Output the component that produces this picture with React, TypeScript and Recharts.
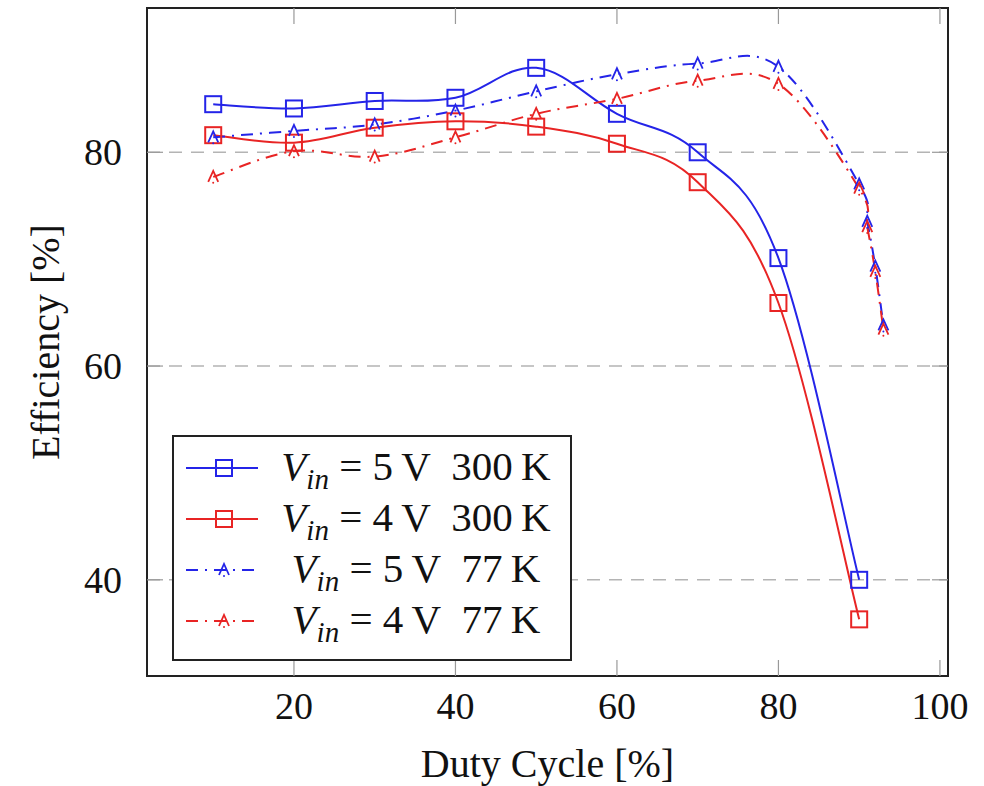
import React from "react";
import {
  LineChart,
  Line,
  XAxis,
  YAxis,
  CartesianGrid,
  Legend,
  ReferenceArea,
} from "recharts";

// duty cycle [%] and efficiency [%]
const duty300K = [10, 20, 30, 40, 50, 60, 70, 80, 90];
const eff5V300K = [84.5, 84.1, 84.8, 85.1, 87.9, 83.6, 80.0, 70.1, 40.0];
const eff4V300K = [81.6, 80.9, 82.3, 82.9, 82.4, 80.8, 77.2, 65.9, 36.3];

const duty77K = [10, 20, 30, 40, 50, 60, 70, 80, 90, 91, 92, 93];
const eff5V77K = [81.4, 82.0, 82.6, 83.9, 85.7, 87.3, 88.3, 88.0, 77.0, 73.5, 69.3, 63.8];
const eff4V77K = [77.7, 80.1, 79.6, 81.4, 83.6, 85.0, 86.7, 86.4, 76.6, 73.0, 68.8, 63.4];

const xTicks = [20, 40, 60, 80, 100];
const yTicks = [40, 60, 80];

const X_DOMAIN: [number, number] = [1.8, 101];
const Y_DOMAIN: [number, number] = [31, 93.5];

const W = 984;
const H = 786;
const TOP = 8;
const LEFT = 147;
const RIGHT = 948;
const BOTTOM = 676;
const TICK_LEN = 16;

const BLUE = "#2424e8";
const RED = "#e82424";
const FONT = "'Liberation Serif', 'DejaVu Serif', serif";
const DASHDOT = "12 7 2 7";

const toPoints = (xs: number[], ys: number[]) => xs.map((x, i) => ({ x, y: ys[i] }));

const series = [
  { name: "5V300K", data: toPoints(duty300K, eff5V300K), color: BLUE, mark: "square", volts: "5", temp: "300" },
  { name: "4V300K", data: toPoints(duty300K, eff4V300K), color: RED, mark: "square", volts: "4", temp: "300" },
  { name: "5V77K", data: toPoints(duty77K, eff5V77K), color: BLUE, mark: "triangle", volts: "5", temp: "77" },
  { name: "4V77K", data: toPoints(duty77K, eff4V77K), color: RED, mark: "triangle", volts: "4", temp: "77" },
];

// tikz-like "smooth" (cardinal spline) curve
const smoothCurve = (context: any) => {
  let pts: [number, number][] = [];
  const k = 0.18;
  return {
    areaStart() {},
    areaEnd() {},
    lineStart() {
      pts = [];
    },
    point(x: number, y: number) {
      pts.push([+x, +y]);
    },
    lineEnd() {
      if (!pts.length) return;
      context.moveTo(pts[0][0], pts[0][1]);
      for (let i = 0; i < pts.length - 1; i++) {
        const p0 = pts[i - 1] || pts[i];
        const p1 = pts[i];
        const p2 = pts[i + 1];
        const p3 = pts[i + 2] || p2;
        context.bezierCurveTo(
          p1[0] + k * (p2[0] - p0[0]),
          p1[1] + k * (p2[1] - p0[1]),
          p2[0] - k * (p3[0] - p1[0]),
          p2[1] - k * (p3[1] - p1[1]),
          p2[0],
          p2[1]
        );
      }
    },
  };
};

const Square = ({ cx, cy, color }: any) => (
  <rect x={cx - 8} y={cy - 8} width={16} height={16} fill="none" stroke={color} strokeWidth={2} />
);

const Caret = ({ cx, cy, color }: any) => (
  <g>
    <path d={`M${cx - 5},${cy + 5} L${cx},${cy - 6} L${cx + 5},${cy + 5}`} fill="none" stroke={color} strokeWidth={1.8} />
    <circle cx={cx} cy={cy + 6} r={1} fill={color} />
  </g>
);

const makeDot = (mark: string, color: string) => (props: any) => {
  const { cx, cy, index } = props;
  if (cx == null || cy == null) return <g key={index} />;
  return mark === "square" ? (
    <Square key={index} cx={cx} cy={cy} color={color} />
  ) : (
    <Caret key={index} cx={cx} cy={cy} color={color} />
  );
};

const XTick = ({ x, y, payload }: any) => (
  <g>
    <line x1={x} x2={x} y1={BOTTOM} y2={BOTTOM - TICK_LEN} stroke="#999" strokeWidth={1.2} />
    <line x1={x} x2={x} y1={TOP} y2={TOP + TICK_LEN} stroke="#999" strokeWidth={1.2} />
    <text x={x} y={y} textAnchor="middle" dominantBaseline="central" fontFamily={FONT} fontSize={38} fill="#111">
      {payload.value}
    </text>
  </g>
);

const YTick = ({ x, y, payload }: any) => (
  <g>
    <line x1={LEFT} x2={LEFT + TICK_LEN} y1={y} y2={y} stroke="#999" strokeWidth={1.2} />
    <line x1={RIGHT} x2={RIGHT - TICK_LEN} y1={y} y2={y} stroke="#999" strokeWidth={1.2} />
    <text x={x} y={y} textAnchor="end" dominantBaseline="central" fontFamily={FONT} fontSize={38} fill="#111">
      {payload.value}
    </text>
  </g>
);

const XTitle = () => (
  <text x={(LEFT + RIGHT) / 2} y={777} textAnchor="middle" fontFamily={FONT} fontSize={40} fill="#111">
    Duty Cycle [%]
  </text>
);

const YTitle = () => {
  const cy = (TOP + BOTTOM) / 2;
  return (
    <text
      x={45}
      y={cy}
      transform={`rotate(-90 45 ${cy})`}
      textAnchor="middle"
      dominantBaseline="central"
      fontFamily={FONT}
      fontSize={40}
      fill="#111"
    >
      Efficiency [%]
    </text>
  );
};

const LegendBox = () => (
  <div
    style={{
      width: 396,
      height: 216,
      border: "2px solid #222",
      background: "#fff",
      paddingTop: 6,
      boxSizing: "content-box",
    }}
  >
    {series.map((s) => (
      <div key={s.name} style={{ display: "flex", alignItems: "center", height: 51 }}>
        <svg width={88} height={51}>
          <line
            x1={12}
            x2={84}
            y1={25}
            y2={25}
            stroke={s.color}
            strokeWidth={2}
            strokeDasharray={s.mark === "square" ? undefined : DASHDOT}
          />
          {s.mark === "square" ? <Square cx={50} cy={25} color={s.color} /> : <Caret cx={50} cy={25} color={s.color} />}
        </svg>
        <div
          style={{
            flex: 1,
            textAlign: "center",
            fontFamily: FONT,
            fontSize: 41,
            color: "#111",
            lineHeight: "51px",
            whiteSpace: "nowrap",
          }}
        >
          <span style={{ fontStyle: "italic" }}>V</span>
          <span style={{ fontStyle: "italic", fontSize: 29, position: "relative", top: 9 }}>in</span>
          {` = ${s.volts}\u2009V\u2002${s.temp}\u2009K`}
        </div>
      </div>
    ))}
  </div>
);

export default function App() {
  return (
    <div style={{ position: "absolute", left: 0, top: 0, width: W, height: H, background: "#fff" }}>
      <LineChart width={W} height={H} margin={{ top: TOP, right: W - RIGHT, bottom: 0, left: 0 }}>
        <CartesianGrid vertical={false} stroke="#b4b4b4" strokeWidth={1.5} strokeDasharray="13 9" />
        <XAxis
          type="number"
          dataKey="x"
          domain={X_DOMAIN}
          ticks={xTicks}
          allowDataOverflow
          height={H - BOTTOM}
          axisLine={false}
          tickLine={false}
          tickSize={0}
          tickMargin={30}
          tick={<XTick />}
          label={<XTitle />}
        />
        <YAxis
          type="number"
          domain={Y_DOMAIN}
          ticks={yTicks}
          allowDataOverflow
          width={LEFT}
          axisLine={false}
          tickLine={false}
          tickSize={0}
          tickMargin={25}
          tick={<YTick />}
          label={<YTitle />}
        />
        {series.map((s) => (
          <Line
            key={s.name}
            data={s.data}
            dataKey="y"
            name={s.name}
            type={smoothCurve as any}
            stroke={s.color}
            strokeWidth={2}
            strokeDasharray={s.mark === "square" ? undefined : DASHDOT}
            dot={makeDot(s.mark, s.color)}
            activeDot={false}
            isAnimationActive={false}
          />
        ))}
        <ReferenceArea
          x1={X_DOMAIN[0]}
          x2={X_DOMAIN[1]}
          y1={Y_DOMAIN[0]}
          y2={Y_DOMAIN[1]}
          fill="none"
          fillOpacity={0}
          stroke="#222"
          strokeWidth={2}
          ifOverflow="visible"
        />
        <Legend
          layout="vertical"
          align="center"
          verticalAlign="middle"
          content={<LegendBox />}
          wrapperStyle={{ left: 172, top: 435, width: 400, height: 224 }}
        />
      </LineChart>
    </div>
  );
}
